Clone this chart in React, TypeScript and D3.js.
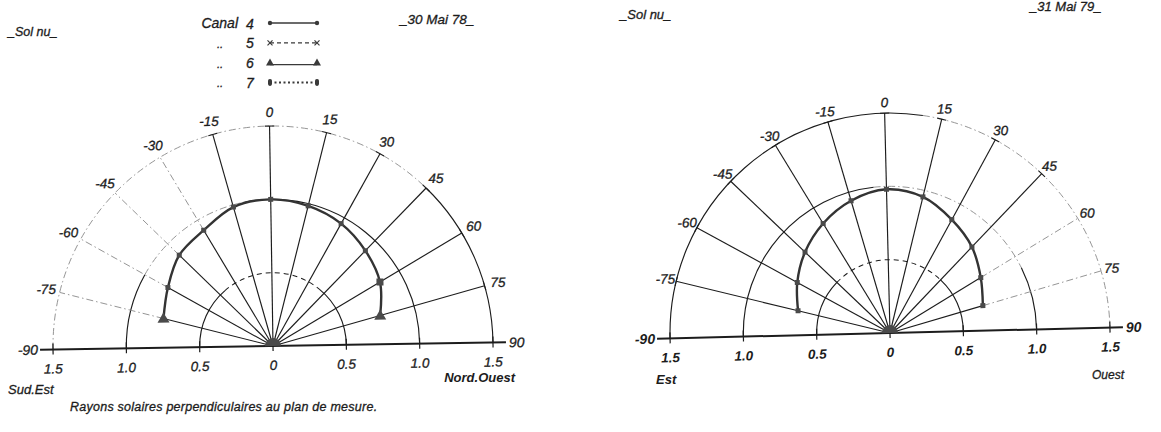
import React from "react";
import * as d3 from "d3";

// Zenith angles of the measurement directions (degrees, 0 = vertical)
const ANGLES = [-75, -60, -45, -30, -15, 0, 15, 30, 45, 60, 75];
// Angular labels written around the outer circle
const ANGLE_LABELS = [-75, -60, -45, -30, -15, 0, 15, 30, 45, 60, 75];
// Radial graduations of the polar grid (relative reflectance)
const RINGS = [0.5, 1.0, 1.5];
const RADIAL_TICKS = [-1.5, -1.0, -0.5, 0, 0.5, 1.0, 1.5];
const RADIAL_TICK_LABELS = ["1.5", "1.0", "0.5", "0", "0.5", "1.0", "1.5"];

// Bare soil, 30 May 1978 — channel 4
const canal4_1978 = [0.77, 0.82, 0.89, 0.92, 0.985, 1.0, 0.985, 0.955, 0.905, 0.85, 0.76];
const marks_1978 = ["tri", "sq", "sq", "sq", "sq", "sq", "sq", "sq", "sq", "bigsq", "tri"];

// Bare soil, 31 May 1979 — channel 4
const canal4_1979 = [0.645, 0.72, 0.8, 0.875, 0.94, 0.98, 0.955, 0.88, 0.81, 0.725, 0.66];
const marks_1979 = ["sq", "sq", "sq", "sq", "sq", "sq", "sq", "sq", "sq", "sq", "sq"];

// Legend entries (channel numbers and their line styles)
const LEGEND_PREFIX = ["Canal", "..", "..", ".."];
const LEGEND_CHANNELS = ["4", "5", "6", "7"];
const LEGEND_STYLES = ["dot", "cross", "tri", "pill"];

const FONT = "'Liberation Sans', Arial, sans-serif";
const INK = "#1c1c1c";
const GREY = "#8a8a8a";

const rScale = d3.scaleLinear().domain([0, 1.5]).range([0, 220]);

const rad = (deg: number) => (deg * Math.PI) / 180;
const pt = (r: number, deg: number): [number, number] => [r * Math.sin(rad(deg)), -r * Math.cos(rad(deg))];

function arcPath(r: number, a0: number, a1: number) {
  const p = d3.path();
  p.arc(0, 0, r, rad(a0 - 90), rad(a1 - 90));
  return p.toString();
}

function strokeFor(style: string) {
  if (style === "dash") return { stroke: INK, strokeWidth: 1, strokeDasharray: "5 4" };
  if (style === "dashdot") return { stroke: GREY, strokeWidth: 0.9, strokeDasharray: "7 3 1.5 3" };
  return { stroke: INK, strokeWidth: 1.15 };
}

// lettering: italic with a slightly heavier stroke
const txt = { fontFamily: FONT, fontStyle: "italic" as const, fill: INK, stroke: INK, strokeWidth: 0.3 };

type Seg = [number, number, string];
interface PolarProps {
  cx: number;
  cy: number;
  rot: number;
  values: number[];
  marks: string[];
  ringSegs: Seg[][];
  spokeOuter: (a: number) => string;
  labelGap: number;
  boldAxis?: boolean;
}

function Marker({ kind, x, y }: { kind: string; x: number; y: number }) {
  const fill = "#4a4a4a";
  if (kind === "tri") {
    const s = 6;
    return <path d={`M${x},${y - s}L${x + s},${y + s * 0.7}L${x - s},${y + s * 0.7}Z`} fill={fill} />;
  }
  const s = kind === "bigsq" ? 7 : 5;
  return <rect x={x - s / 2} y={y - s / 2} width={s} height={s} fill={fill} />;
}

function PolarChart({ cx, cy, rot, values, marks, ringSegs, spokeOuter, labelGap, boldAxis }: PolarProps) {
  const rMax = rScale(1.5);
  const line = d3
    .lineRadial<number>()
    .angle((_, i) => rad(ANGLES[i]))
    .radius((d) => rScale(d))
    .curve(d3.curveCatmullRom.alpha(0.5));
  const sun = d3.arc()({ innerRadius: 0, outerRadius: 8, startAngle: -Math.PI / 2, endAngle: Math.PI / 2 }) as string;
  const ext = 13;
  const axisTxt = boldAxis ? { ...txt, fontWeight: "bold" as const, strokeWidth: 0 } : txt;
  return (
    <g transform={`translate(${cx},${cy}) rotate(${rot})`}>
      {/* concentric circles */}
      {RINGS.map((rv, i) =>
        ringSegs[i].map(([a0, a1, st], j) => (
          <path key={`r${i}-${j}`} d={arcPath(rScale(rv), a0, a1)} fill="none" {...strokeFor(st)} />
        ))
      )}
      {/* radial lines */}
      {ANGLES.map((a, i) => {
        const [x1, y1] = pt(rScale(values[i]), a);
        const [x2, y2] = pt(rMax, a);
        const [cx1, cy1] = pt(rMax, a - 1.2);
        const [cx2, cy2] = pt(rMax, a + 1.2);
        const st = spokeOuter(a);
        return (
          <g key={`s${a}`}>
            <line x1={0} y1={0} x2={x1} y2={y1} {...strokeFor("solid")} />
            <line x1={x1} y1={y1} x2={x2} y2={y2} {...strokeFor(st)} />
            {st === "solid" && <line x1={cx1} y1={cy1} x2={cx2} y2={cy2} stroke={INK} strokeWidth={1.1} />}
          </g>
        );
      })}
      {/* horizontal axis */}
      <line x1={-rMax - ext} y1={0} x2={rMax + ext} y2={0} stroke={INK} strokeWidth={2} />
      {RADIAL_TICKS.map((t) => (
        <line key={`t${t}`} x1={Math.sign(t) * rScale(Math.abs(t))} y1={-6} x2={Math.sign(t) * rScale(Math.abs(t))} y2={5} stroke={INK} strokeWidth={1.2} />
      ))}
      {RADIAL_TICKS.map((t, i) => (
        <text key={`tl${t}`} x={Math.sign(t) * rScale(Math.abs(t))} y={24} textAnchor="middle" fontSize={13.5} {...axisTxt}>
          {RADIAL_TICK_LABELS[i]}
        </text>
      ))}
      <text x={-rMax - ext - 2} y={5} textAnchor="end" fontSize={14} {...axisTxt}>-90</text>
      <text x={rMax + ext + 3} y={5} textAnchor="start" fontSize={14} {...axisTxt}>90</text>
      {/* angle labels */}
      {ANGLE_LABELS.map((a) => {
        const [x, y] = pt(rMax + labelGap, a);
        return (
          <text key={`al${a}`} x={x} y={y + 5} textAnchor="middle" fontSize={13.5} {...txt}>
            {a}
          </text>
        );
      })}
      {/* measured curve */}
      <path d={line(values) as string} fill="none" stroke="#333" strokeWidth={2.4} />
      {values.map((v, i) => {
        const [x, y] = pt(rScale(v), ANGLES[i]);
        return <Marker key={`m${i}`} kind={marks[i]} x={x} y={y} />;
      })}
      {/* sun symbol at the origin */}
      <path d={sun} fill="#4a4a4a" />
    </g>
  );
}

function LegendSample({ kind, x1, x2, y }: { kind: string; x1: number; x2: number; y: number }) {
  const f = "#3a3a3a";
  if (kind === "dot")
    return (
      <g>
        <line x1={x1} y1={y} x2={x2} y2={y} stroke={f} strokeWidth={1.3} />
        <circle cx={x1} cy={y} r={2.2} fill={f} />
        <circle cx={x2} cy={y} r={2.2} fill={f} />
      </g>
    );
  if (kind === "cross")
    return (
      <g stroke={f} strokeWidth={1.2}>
        <line x1={x1} y1={y} x2={x2} y2={y} strokeDasharray="4 3" />
        <path d={`M${x1 - 2.5},${y - 2.5}L${x1 + 2.5},${y + 2.5}M${x1 - 2.5},${y + 2.5}L${x1 + 2.5},${y - 2.5}`} />
        <path d={`M${x2 - 2.5},${y - 2.5}L${x2 + 2.5},${y + 2.5}M${x2 - 2.5},${y + 2.5}L${x2 + 2.5},${y - 2.5}`} />
      </g>
    );
  if (kind === "tri")
    return (
      <g>
        <line x1={x1} y1={y + 2} x2={x2} y2={y + 2} stroke={f} strokeWidth={1.2} />
        <path d={`M${x1},${y - 4}L${x1 + 4},${y + 3}L${x1 - 4},${y + 3}Z`} fill={f} />
        <path d={`M${x2},${y - 4}L${x2 + 4},${y + 3}L${x2 - 4},${y + 3}Z`} fill={f} />
      </g>
    );
  return (
    <g>
      <line x1={x1} y1={y} x2={x2} y2={y} stroke={f} strokeWidth={2} strokeDasharray="2 2.5" />
      <rect x={x1 - 2} y={y - 3.5} width={4} height={7} rx={1.8} fill={f} />
      <rect x={x2 - 2} y={y - 3.5} width={4} height={7} rx={1.8} fill={f} />
    </g>
  );
}

export default function App() {
  const W = 1161;
  const H = 432;
  return (
    <svg width={W} height={H} viewBox={`0 0 ${W} ${H}`} style={{ position: "absolute", left: 0, top: 0, background: "#fff" }}>
      <rect width={W} height={H} fill="#fff" />

      {/* ---- left panel: 30 May 1978 ---- */}
      <text x={8} y={36} fontSize={12.5} {...txt}>_Sol nu_</text>
      <text x={400} y={24} fontSize={13.5} {...txt}>_30 Mai 78_</text>
      {LEGEND_CHANNELS.map((c, i) => {
        const y = 23 + i * 19.8;
        return (
          <g key={`lg${c}`}>
            {i === 0 ? (
              <text x={238} y={y + 5} textAnchor="end" fontSize={14} {...txt}>{LEGEND_PREFIX[i]}</text>
            ) : (
              <text x={220} y={y + 5} textAnchor="middle" fontSize={11} {...txt}>{LEGEND_PREFIX[i]}</text>
            )}
            <text x={250} y={y + 5.5} textAnchor="middle" fontSize={14} {...txt}>{c}</text>
            <LegendSample kind={LEGEND_STYLES[i]} x1={270} x2={317} y={y} />
          </g>
        );
      })}
      <PolarChart
        cx={273}
        cy={346}
        rot={-0.9}
        values={canal4_1978}
        marks={marks_1978}
        ringSegs={[
          [[-90, -40, "solid"], [-40, 40, "dash"], [40, 90, "solid"]],
          [[-90, -60, "solid"], [-60, -10, "dashdot"], [-10, 90, "solid"]],
          [[-90, 45, "dashdot"], [45, 90, "solid"]],
        ]}
        spokeOuter={(a) => (a <= -30 ? "dashdot" : "solid")}
        labelGap={14}
      />
      <text x={8} y={394} fontSize={13} {...txt}>Sud.Est</text>
      <text x={515} y={382} textAnchor="end" fontSize={13} fontWeight="bold" {...txt} strokeWidth={0}>Nord.Ouest</text>
      <text x={70} y={411} fontSize={12.5} letterSpacing={0.25} {...txt}>Rayons solaires perpendiculaires au plan de mesure.</text>

      {/* ---- right panel: 31 May 1979 ---- */}
      <text x={620} y={19} fontSize={13} {...txt}>_Sol  nu_</text>
      <text x={1030} y={11} fontSize={13} {...txt}>_31 Mai 79_</text>
      <PolarChart
        cx={890}
        cy={333}
        rot={-1.4}
        values={canal4_1979}
        marks={marks_1979}
        ringSegs={[
          [[-90, -45, "solid"], [-45, 45, "dash"], [45, 90, "solid"]],
          [[-90, -5, "solid"], [-5, 65, "dashdot"], [65, 90, "solid"]],
          [[-90, 10, "solid"], [10, 90, "dashdot"]],
        ]}
        spokeOuter={(a) => (a >= 60 ? "dashdot" : "solid")}
        labelGap={11}
        boldAxis
      />
      <text x={656} y={384} fontSize={13} fontWeight="bold" {...txt} strokeWidth={0}>Est</text>
      <text x={1092} y={379} fontSize={12} {...txt}>Ouest</text>
    </svg>
  );
}
